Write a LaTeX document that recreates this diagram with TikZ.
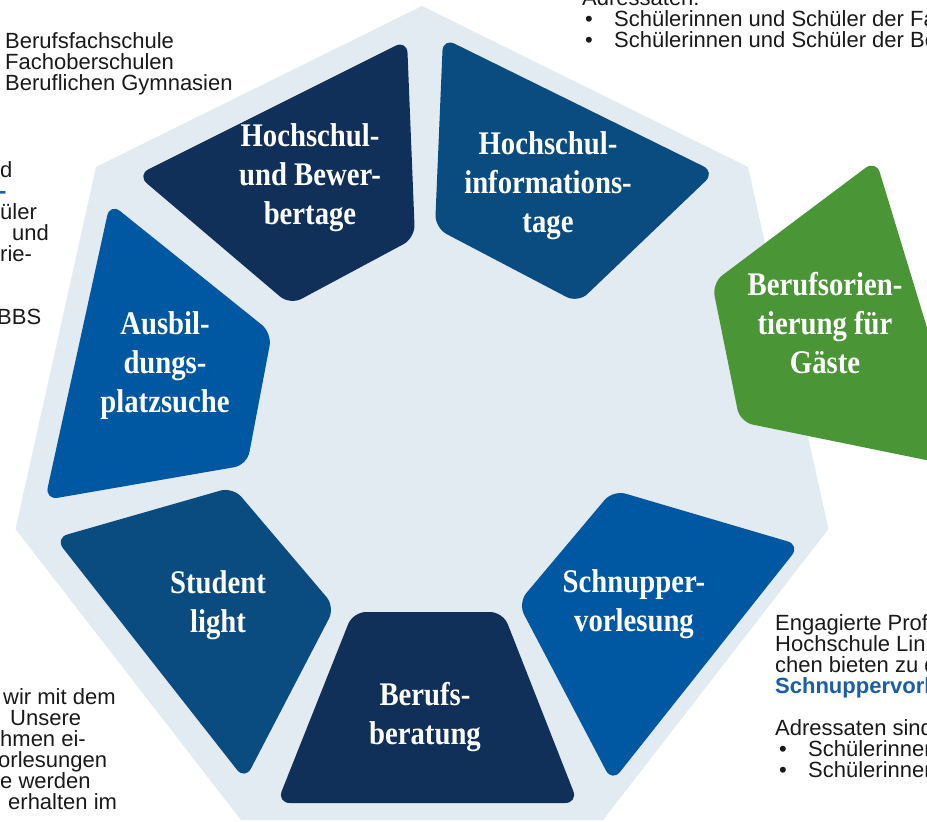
\documentclass[tikz,border=0pt]{standalone}
\usepackage{fontspec}
\setmainfont{Liberation Sans}
\newfontfamily\segfont[FakeStretch=0.87]{Liberation Serif}
\definecolor{bgpoly}{HTML}{E2EAF2}
\definecolor{navy}{HTML}{10305A}
\definecolor{midblue}{HTML}{0B4C80}
\definecolor{brightblue}{HTML}{0057A2}
\definecolor{grn}{HTML}{4A9636}
\definecolor{txtblue}{HTML}{1B5EA8}
\definecolor{txt}{HTML}{1A1A1A}
\begin{document}
\begin{tikzpicture}[x=1pt,y=-1pt,
  seg/.style={rounded corners=13pt},
  lbl/.style={text=white,font=\segfont\bfseries\fontsize{33}{39}\selectfont,align=center,inner sep=0pt},
  body/.style={text=txt,font=\fontsize{22}{21}\selectfont,anchor=base west,inner sep=0pt},
  bluebold/.style={body,text=txtblue,font=\bfseries\fontsize{22}{21}\selectfont}]
\useasboundingbox (0,0) rectangle (927,822);
\fill[white] (0,0) rectangle (927,822);
% background heptagon
\fill[bgpoly] (422,6) -- (96,167) -- (15.5,529) -- (241,820) -- (603,820) -- (828.5,529) -- (748,167) -- cycle;
% segments
\fill[navy,seg] (137,175) -- (407,40) -- (415,238) -- (290,305) -- cycle;
\fill[midblue,seg] (443,38) -- (715,172) -- (578,303) -- (435,228) -- cycle;
\fill[grn,seg] (876,160) -- (970,469) -- (740,422) -- (712,283) -- cycle;
\fill[brightblue,seg] (110,203) -- (272,333) -- (247,465) -- (45,500) -- cycle;
\fill[midblue,seg] (55,538) -- (233,487) -- (335,607) -- (245,780) -- cycle;
\fill[navy,seg] (353,612) -- (503,612) -- (578,803) -- (277,803) -- cycle;
\fill[brightblue,seg] (518,603) -- (613,490) -- (800,545) -- (612,782) -- cycle;
% segment labels
\node[lbl] (hbt) at (310,178) {Hochschul-\\und Bewer-\\bertage};
\node[lbl] (hit) at (548,186) {Hochschul-\\informations-\\tage};
\node[lbl] (bog) at (825,323) {Berufsorien-\\tierung für\\Gäste};
\node[lbl] (aps) at (165,366) {Ausbil-\\dungs-\\platzsuche};
\node[lbl] (stl) at (218,605) {Student\\light};
\node[lbl] (bbr) at (425,717) {Berufs-\\beratung};
\node[lbl] (snv) at (634,604) {Schnupper-\\vorlesung};
% top left text
\node[body] (tl1) at (5,48) {Berufsfachschule};
\node[body] (tl2) at (5,69) {Fachoberschulen};
\node[body] (tl3) at (5,90) {Beruflichen Gymnasien};
% left middle text
\node[body] (lm1) at (0,177) {d};
\node[bluebold] (lm2) at (-1,198) {-};
\node[body] (lm3) at (0,219) {üler};
\node[body] (lm4) at (12,240) {und};
\node[body] (lm5) at (0,261) {rie-};
\node[body] (lm6) at (-3,324) {BBS};
% bottom left text
\node[body] (bl1) at (3,704) {wir mit dem};
\node[body] (bl2) at (10,725) {Unsere};
\node[body] (bl3) at (0,746) {hmen ei-};
\node[body] (bl4) at (-2,767) {orlesungen};
\node[body] (bl5) at (0,788) {e werden};
\node[body] (bl6) at (8,809) {erhalten im};
% top right text
\node[body] (tr0) at (582,5) {Adressaten:};
\node[body] (trb1) at (585,26) {•};
\node[body] (tr1) at (614,26) {Schülerinnen und Schüler der Fa};
\node[body] (trb2) at (585,47) {•};
\node[body] (tr2) at (614,47) {Schülerinnen und Schüler der Be};
% bottom right text
\node[body] (br1) at (775,630) {Engagierte Prof};
\node[body] (br2) at (775,651) {Hochschule Lin};
\node[body] (br3) at (775,672) {chen bieten zu d};
\node[bluebold] (br4) at (775,693) {Schnuppervorl};
\node[body] (br5) at (775,735) {Adressaten sind};
\node[body] (brb1) at (779,756) {•};
\node[body] (br6) at (808,756) {Schülerinnen};
\node[body] (brb2) at (779,777) {•};
\node[body] (br7) at (808,777) {Schülerinnen};
\end{tikzpicture}
\end{document}
